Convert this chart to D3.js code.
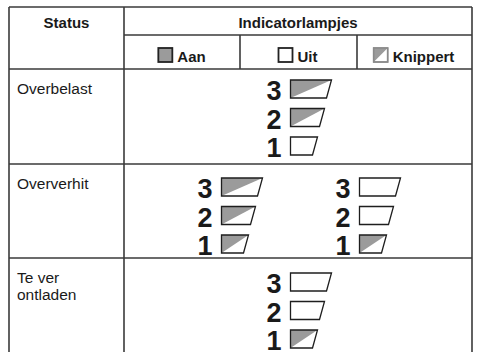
<!DOCTYPE html>
<html>
<head>
<meta charset="utf-8">
<script src="https://cdn.jsdelivr.net/npm/d3@7"></script>
<style>
  html, body { margin: 0; padding: 0; background: #fff; }
  svg { display: block; }
  text { font-family: "Liberation Sans", Arial, Helvetica, sans-serif; fill: #1a1a1a; }
</style>
</head>
<body>
<svg id="chart" width="478" height="352"></svg>
<script>
// ---- data ----
const headerStatus = "Status";
const headerLamps = "Indicatorlampjes";
const legendLabels = ["Aan", "Uit", "Knippert"];
const legendStates = ["aan", "uit", "knippert"];
const statusLabels = [["Overbelast"], ["Oververhit"], ["Te ver", "ontladen"]];
const lampNumbers = [3, 2, 1];
const overbelastLamps = ["knippert", "knippert", "uit"];
const oververhitLampsA = ["knippert", "knippert", "knippert"];
const oververhitLampsB = ["uit", "uit", "knippert"];
const teVerOntladenLamps = ["uit", "uit", "knippert"];
const rowGroups = [[overbelastLamps], [oververhitLampsA, oververhitLampsB], [teVerOntladenLamps]];

// ---- layout ----
const svg = d3.select("#chart");
const W = 478, H = 352;
const colX = [9, 124, 240, 357, 472];
const rowY = [7, 35, 69, 164, 258, 360];
const lineColor = "#3a3a3a";
const gray = "#9b9b9b";
const lampTopPad = [11, 14, 15];

const lampW = d3.scaleLinear().domain([1, 3]).range([27, 41]);
const lampStep = d3.scalePoint().domain(lampNumbers).range([0, 57]);
const lampH = 18;

// grid lines
const g = svg.append("g");
function line(x1, y1, x2, y2, w) {
  g.append("line").attr("x1", x1).attr("y1", y1).attr("x2", x2).attr("y2", y2)
    .attr("stroke", lineColor).attr("stroke-width", w || 1.6);
}
line(colX[0], rowY[0], colX[4], rowY[0]);
line(colX[1], rowY[1], colX[4], rowY[1]);
[2, 3, 4].forEach(i => line(colX[0], rowY[i], colX[4], rowY[i]));
line(colX[0], rowY[0], colX[0], H);
line(colX[1], rowY[0], colX[1], H);
line(colX[4], rowY[0], colX[4], H);
line(colX[2], rowY[1], colX[2], rowY[2]);
line(colX[3], rowY[1], colX[3], rowY[2]);

// headers
svg.append("text").attr("x", (colX[0] + colX[1]) / 2).attr("y", 28)
  .attr("text-anchor", "middle").attr("font-weight", "bold").attr("font-size", 15).text(headerStatus);
svg.append("text").attr("x", (colX[1] + colX[4]) / 2).attr("y", 28)
  .attr("text-anchor", "middle").attr("font-weight", "bold").attr("font-size", 15).text(headerLamps);

// small legend icons
function legendIcon(sel, x, y, s, state) {
  const gg = sel.append("g");
  if (state === "knippert") {
    gg.append("rect").attr("x", x).attr("y", y).attr("width", s).attr("height", s)
      .attr("fill", "#fff").attr("stroke", "#8a8a8a").attr("stroke-width", 1.5);
    gg.append("path").attr("d", `M${x},${y}L${x + s},${y}L${x},${y + s}Z`).attr("fill", gray);
    gg.append("rect").attr("x", x).attr("y", y).attr("width", s).attr("height", s)
      .attr("fill", "none").attr("stroke", "#8a8a8a").attr("stroke-width", 1.5);
  } else {
    gg.append("rect").attr("x", x).attr("y", y).attr("width", s).attr("height", s)
      .attr("fill", state === "aan" ? gray : "#fff").attr("stroke", "#222").attr("stroke-width", 1.8);
  }
}
const subCol = d3.scaleBand().domain(legendLabels).range([colX[1], colX[4]]);
legendLabels.forEach((lab, i) => {
  const cx = subCol(lab) + subCol.bandwidth() / 2;
  const t = svg.append("text").attr("y", 62).attr("font-weight", "bold").attr("font-size", 15).text(lab);
  const tw = t.node().getComputedTextLength();
  const iconS = 14, gap = 5;
  const total = iconS + gap + tw;
  const left = cx - total / 2;
  legendIcon(svg, left, 48, iconS, legendStates[i]);
  t.attr("x", left + iconS + gap);
});

// status labels
statusLabels.forEach((lines, i) => {
  const t = svg.append("text").attr("x", 17).attr("font-size", 15.5);
  lines.forEach((ln, j) => {
    t.append("tspan").attr("x", 17).attr("y", rowY[i + 2] + 25 + j * 17).text(ln);
  });
});

// lamps
function drawLampGroup(states, cx, top) {
  const lampLeft = cx - 7.5;
  lampNumbers.forEach((n, k) => {
    const y = top + lampStep(n);
    const w = lampW(n);
    const st = states[k];
    svg.append("text").attr("x", lampLeft - 9).attr("y", y + lampH + 2)
      .attr("text-anchor", "end").attr("font-weight", "bold").attr("font-size", 27).text(n);
    const x0 = lampLeft;
    const slant = 5;
    if (st === "knippert") {
      svg.append("path").attr("d", `M${x0},${y}L${x0 + w},${y}L${x0},${y + lampH}Z`).attr("fill", gray);
    }
    svg.append("path")
      .attr("d", `M${x0},${y}L${x0 + w},${y}L${x0 + w - slant},${y + lampH}L${x0},${y + lampH}Z`)
      .attr("fill", st === "aan" ? gray : "none").attr("stroke", "#1e1e1e").attr("stroke-width", 1.3)
      .attr("stroke-linejoin", "miter");
  });
}
const indCenter = (colX[1] + colX[4]) / 2;
rowGroups.forEach((groups, i) => {
  const top = rowY[i + 2] + lampTopPad[i];
  if (groups.length === 1) drawLampGroup(groups[0], indCenter, top);
  else {
    drawLampGroup(groups[0], indCenter - 69, top);
    drawLampGroup(groups[1], indCenter + 69, top);
  }
});
</script>
</body>
</html>
